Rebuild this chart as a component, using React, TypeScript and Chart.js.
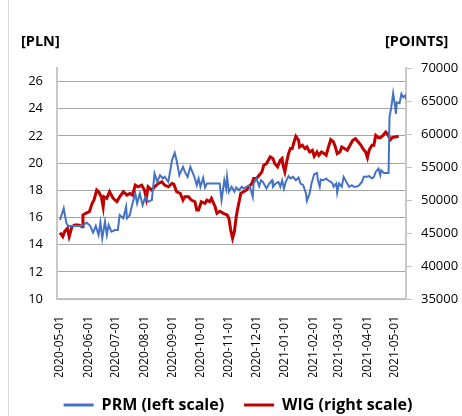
import React, { useEffect, useRef } from "react";
import { Chart, registerables } from "chart.js";

Chart.register(...registerables);

// x values are days since 2020-05-01
const monthDays = [0, 31, 61, 92, 123, 153, 184, 214, 245, 276, 304, 335, 365];
const monthLabels = [
  "2020-05-01", "2020-06-01", "2020-07-01", "2020-08-01", "2020-09-01", "2020-10-01",
  "2020-11-01", "2020-12-01", "2021-01-01", "2021-02-01", "2021-03-01", "2021-04-01", "2021-05-01",
];

const prmDays = [0, 4, 7, 9, 24, 29, 33, 36, 39, 42, 44, 46, 49, 51, 53, 56, 60, 63, 65, 69, 72, 73, 76, 79, 82, 84, 87, 90, 93, 96, 100, 103, 106, 109, 112, 114, 118, 122, 125, 127, 130, 134, 136, 139, 142, 145, 147, 149, 151, 153, 156, 158, 160, 174, 176, 179, 181, 182, 184, 187, 190, 192, 195, 198, 200, 203, 206, 208, 210, 211, 214, 217, 219, 221, 225, 228, 231, 232, 235, 238, 240, 242, 244, 246, 249, 251, 254, 257, 260, 262, 265, 268, 269, 272, 274, 277, 280, 281, 283, 284, 287, 290, 292, 295, 297, 298, 301, 302, 304, 307, 309, 312, 315, 318, 320, 323, 326, 329, 331, 334, 337, 340, 342, 344, 347, 349, 350, 353, 356, 358, 359, 361, 363, 365, 366, 367, 370, 372, 374, 376, 377];
const prmValues = [15.81, 16.67, 15.57, 15.37, 15.37, 15.62, 15.37, 14.89, 15.37, 14.71, 15.62, 14.47, 15.69, 14.71, 15.45, 14.96, 15.08, 15.08, 16.18, 15.94, 16.79, 15.94, 16.18, 17.03, 17.77, 17.03, 17.77, 16.91, 17.52, 17.16, 17.28, 19.23, 18.62, 19.11, 18.87, 18.99, 18.62, 20.21, 20.75, 20.21, 19.11, 19.72, 19.35, 18.99, 19.72, 19.23, 18.87, 18.38, 18.87, 18.26, 18.92, 18.21, 18.5, 18.5, 17.28, 18.74, 18.13, 18.99, 17.89, 18.26, 17.89, 18.21, 18.01, 18.26, 18.13, 18.26, 18.38, 18.01, 17.52, 18.5, 18.87, 18.3, 18.74, 18.62, 18.13, 18.5, 18.74, 18.26, 18.5, 18.62, 18.26, 18.74, 18.13, 18.62, 19.04, 18.87, 18.99, 18.74, 18.94, 18.5, 18.38, 17.77, 17.23, 17.77, 18.5, 19.18, 19.28, 18.74, 18.26, 18.79, 18.74, 18.87, 18.74, 18.62, 18.5, 18.26, 18.5, 17.82, 18.5, 18.26, 18.99, 18.62, 18.26, 18.38, 18.26, 18.26, 18.38, 18.62, 18.99, 18.99, 19.04, 18.87, 18.99, 19.35, 19.6, 19.11, 19.48, 19.28, 19.28, 19.28, 23.39, 24.12, 25.14, 24.24, 23.63, 24.48, 24.41, 25.09, 24.85, 24.97, 24.7];

const wigDays = [0, 3, 5, 8, 10, 13, 16, 20, 24, 25, 28, 32, 35, 37, 40, 42, 45, 47, 48, 51, 54, 58, 62, 65, 69, 73, 76, 79, 82, 85, 89, 92, 94, 96, 100, 103, 107, 111, 114, 118, 122, 124, 127, 131, 134, 136, 140, 143, 147, 149, 151, 154, 158, 160, 163, 165, 169, 171, 174, 178, 182, 184, 186, 188, 190, 192, 194, 197, 200, 203, 206, 209, 211, 214, 217, 220, 222, 225, 229, 232, 234, 237, 240, 242, 243, 245, 247, 249, 251, 253, 255, 257, 260, 261, 264, 267, 269, 272, 275, 277, 280, 282, 285, 288, 290, 292, 295, 298, 300, 302, 305, 307, 310, 313, 316, 319, 322, 325, 328, 330, 333, 335, 337, 340, 342, 344, 347, 349, 352, 355, 357, 360, 362, 365, 369];
const wigValues = [45060, 44460, 45210, 45710, 44460, 45960, 46220, 46220, 45960, 47730, 47980, 48230, 49490, 49990, 51500, 51250, 50490, 48980, 50490, 50240, 51250, 50240, 49740, 50490, 51250, 50740, 50990, 50740, 52250, 52000, 52250, 51500, 50240, 52000, 51500, 52000, 52500, 52760, 52250, 52000, 52500, 52400, 51250, 51000, 50000, 50490, 50490, 50000, 49740, 48480, 48480, 49740, 49490, 50000, 49740, 50240, 48980, 47980, 48300, 47980, 47730, 47220, 45460, 44200, 45210, 47470, 48980, 51000, 51250, 51500, 52000, 52500, 53260, 53260, 53760, 54260, 55270, 55520, 56530, 56280, 55520, 55020, 56030, 56280, 55270, 54260, 55770, 57030, 57790, 57790, 58790, 59650, 59040, 58040, 58290, 57790, 58040, 57280, 57530, 56630, 57280, 56780, 57280, 57030, 56780, 57790, 59140, 58790, 58040, 57030, 57280, 58040, 57790, 57530, 58290, 59040, 59290, 58790, 58290, 57790, 57280, 56430, 57640, 58290, 58290, 59800, 59450, 59450, 59800, 60300, 59950, 59140, 59450, 59550, 59650];

const leftTitle = "[PLN]";
const rightTitle = "[POINTS]";
const prmName = "PRM (left scale)";
const wigName = "WIG (right scale)";

const FONT = "'Open Sans', sans-serif";

const unitTitles = {
  id: "unitTitles",
  afterDraw(chart: any) {
    const ctx = chart.ctx;
    ctx.save();
    ctx.font = `bold 14.5px ${FONT}`;
    ctx.fillStyle = "#000";
    ctx.textBaseline = "middle";
    ctx.textAlign = "left";
    ctx.fillText(leftTitle, 21, 42);
    ctx.fillText(rightTitle, 385, 42);
    ctx.restore();
  },
};

export default function App() {
  const ref = useRef<HTMLCanvasElement>(null);
  useEffect(() => {
    if (!ref.current) return;
    const chart = new Chart(ref.current, {
      type: "line",
      data: {
        datasets: [
          {
            label: prmName,
            data: prmDays.map((d, i) => ({ x: d, y: prmValues[i] })),
            borderColor: "#4472C4",
            backgroundColor: "#4472C4",
            borderWidth: 2,
            pointRadius: 0,
            tension: 0,
            yAxisID: "y",
          },
          {
            label: wigName,
            data: wigDays.map((d, i) => ({ x: d, y: wigValues[i] })),
            borderColor: "#C00000",
            backgroundColor: "#C00000",
            borderWidth: 3,
            pointRadius: 0,
            tension: 0,
            yAxisID: "y1",
          },
        ],
      },
      options: {
        responsive: false,
        animation: false,
        layout: { padding: { top: 68, left: 14, right: 0, bottom: 7 } },
        plugins: {
          tooltip: { enabled: false },
          legend: {
            position: "bottom",
            labels: {
              boxWidth: 30,
              boxHeight: 3,
              padding: 20,
              color: "#000",
              font: { family: FONT, size: 16, weight: "bold" },
              generateLabels: (c: any) =>
                (Chart.defaults.plugins.legend.labels as any)
                  .generateLabels(c)
                  .map((l: any) => ({ ...l, lineWidth: 0 })),
            },
          },
        },
        scales: {
          x: {
            type: "linear",
            min: -3.3,
            max: 377,
            grid: { display: false },
            border: { display: true, color: "#c8c8c8", width: 1.5 },
            afterBuildTicks: (scale: any) => {
              scale.ticks = monthDays.map((v) => ({ value: v }));
            },
            afterFit: (scale: any) => {
              scale.height = 78;
            },
            ticks: {
              autoSkip: false,
              minRotation: 90,
              maxRotation: 90,
              padding: 9,
              color: "#000",
              font: { family: FONT, size: 12 },
              callback: (v: any) => {
                const i = monthDays.indexOf(Number(v));
                return i >= 0 ? monthLabels[i] : "";
              },
            },
          },
          y: {
            position: "left",
            min: 10,
            max: 27,
            grid: { color: "#a6a6a6", lineWidth: 1, drawTicks: false },
            border: { display: true, color: "#c8c8c8", width: 2 },
            afterFit: (scale: any) => {
              scale.width = 43;
            },
            ticks: {
              stepSize: 2,
              includeBounds: false,
              padding: 14,
              color: "#000",
              font: { family: FONT, size: 13 },
            },
          },
          y1: {
            position: "right",
            min: 35000,
            max: 70000,
            grid: { drawOnChartArea: false, drawTicks: true, tickLength: 6, color: "#bfbfbf" },
            border: { display: true, color: "#c8c8c8", width: 2 },
            afterFit: (scale: any) => {
              scale.width = 56;
            },
            ticks: {
              stepSize: 5000,
              padding: 9,
              color: "#000",
              font: { family: FONT, size: 13 },
              callback: (v: any) => String(v),
            },
          },
        },
      } as any,
      plugins: [unitTitles],
    });
    return () => chart.destroy();
  }, []);

  return (
    <div style={{ position: "absolute", left: 0, top: 0, width: 462, height: 416, overflow: "hidden", background: "#fff" }}>
      <div style={{ position: "absolute", left: 8, top: 0, width: 1, height: 416, background: "#d9d9d9" }} />
      <canvas ref={ref} width={462} height={430} style={{ position: "absolute", left: 0, top: 0 }} />
    </div>
  );
}
